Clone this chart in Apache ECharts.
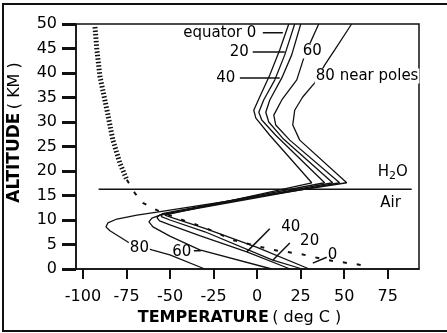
<!DOCTYPE html>
<html>
<head>
<meta charset="utf-8">
<script src="https://cdn.jsdelivr.net/npm/echarts@6/dist/echarts.min.js"></script>
<style>
html, body { margin: 0; padding: 0; background: #fff; }
#main { width: 447px; height: 333px; }
</style>
</head>
<body>
<div id="main"></div>
<script>
// temperature (deg C) vs altitude (km), one profile per latitude
const xTicks = [-100, -75, -50, -25, 0, 25, 50, 75];
const latEquator = [[30, 0], [0, 4.4], [-30, 8.3], [-48, 10.4], [-53, 11.0], [-52, 11.4], [31.4, 17.6], [7.3, 27.3], [-0.7, 30.8], [-1.9, 32.4], [1.5, 35.1], [7.3, 39.6], [13.0, 44.7], [18.2, 50]];
const lat20 = [[26, 0], [9, 1.8], [-30, 7.6], [-50, 10.0], [-55, 10.7], [-54.5, 11.3], [38.8, 17.6], [10.7, 27.3], [2.7, 30.4], [1.0, 32.0], [3.8, 34.5], [10.2, 38.6], [15.9, 43.7], [21.6, 50]];
const lat40 = [[19, 0], [-5.9, 3.5], [-33, 6.8], [-50, 9.0], [-56, 9.8], [-57.5, 10.5], [-55.5, 11.1], [43.4, 17.6], [14.7, 26.7], [6.7, 30.0], [5.0, 32.0], [7.3, 34.5], [14.2, 39.0], [19.9, 43.7], [25.1, 50]];
const lat60 = [[8.4, 0], [-32.9, 3.9], [-50.1, 6.7], [-59.8, 8.6], [-62.1, 9.6], [-60.4, 10.4], [-55.8, 11.0], [47.4, 17.6], [18.8, 26.3], [10.7, 29.4], [9.6, 31.4], [14.2, 34.5], [22.8, 38.6], [27.4, 43.7], [35.4, 50]];
const lat80 = [[-30, 0], [-50.1, 2.9], [-60.4, 3.9], [-74.2, 5.5], [-84.5, 7.8], [-86.8, 8.6], [-85.7, 9.4], [-80.5, 10.2], [-69, 11.0], [-57.5, 11.6], [51.5, 17.6], [24.5, 26.3], [20.5, 29.4], [21.6, 32.4], [26.2, 35.1], [33.1, 38.0], [38.8, 41.6], [44.6, 44.7], [54.3, 50]];
// dotted reference profile (dense part above, sparse dashes below)
const dottedUpper = [[-93.1, 49.4], [-92.0, 44.7], [-90.2, 39.2], [-86.2, 32.4], [-82.8, 26.3], [-78.8, 21.6], [-74.8, 18.2]];
const dottedLower = [[-74.8, 18.2], [-70.2, 15.5], [-65.6, 13.5], [-57.5, 12.0], [-46.1, 10.4], [-32.9, 8.8], [-24.3, 7.6], [-13.9, 5.9], [9.0, 3.9], [24.5, 3.1], [40.6, 1.8], [60.1, 0.8]];
// H2O / Air boundary
const boundary = [[-91, 16.3], [88.8, 16.3]];

// annotations
const labelTexts = ['equator 0', '20', '40', '60', '80 near poles', 'H2O', 'Air', '40', '20', '0', '60', '80'];
const labelSpots = [[-21.4, 48.2], [-10.2, 44.3], [-18, 39.0], [31.7, 44.5], [63.2, 39.4], [77.9, 19.8], [76.7, 13.5], [19.3, 8.6], [30.2, 5.7], [43.4, 2.9], [-43.2, 3.5], [-67.6, 4.2]];
const leaders = [
  [[3.3, 48.2], [14.8, 48.2]],
  [[-2.5, 44.3], [15.9, 44.3]],
  [[-9.9, 39.0], [13.0, 39.0]],
  [[-5.9, 3.5], [7.3, 8.2]],
  [[9.0, 1.8], [18.8, 5.3]],
  [[32, 1.2], [40, 2.4]],
  [[-36.3, 3.7], [-32.3, 3.7]]
];

const ink = '#111';
const font = 'DejaVu Sans';

function profile (data) {
  return {
    type: 'line', data: data, symbol: 'none', z: 3,
    lineStyle: { color: ink, width: 1.3 }
  };
}

let series = [latEquator, lat20, lat40, lat60, lat80].map(profile);
series.push({
  type: 'line', data: dottedUpper, symbol: 'none', z: 2,
  lineStyle: { color: ink, width: 5, type: [1.5, 2] }
});
series.push({
  type: 'line', data: dottedLower, symbol: 'none', z: 2,
  lineStyle: { color: ink, width: 2, type: [4, 10] }
});
series.push({
  type: 'line', data: boundary, symbol: 'none', z: 2,
  lineStyle: { color: ink, width: 1.5 }
});
leaders.forEach(seg => {
  series.push({
    type: 'line', data: seg, symbol: 'none', z: 4,
    lineStyle: { color: ink, width: 1.5 }
  });
});
series.push({
  type: 'scatter', z: 10, symbolSize: 0,
  itemStyle: { opacity: 1 },
  data: labelSpots.map((p, i) => ({
    value: p,
    label: {
      show: true, position: 'inside',
      formatter: labelTexts[i] === 'H2O' ? '{a|H}{s|2}{a|O}' : labelTexts[i],
      backgroundColor: (i === 3 || i === 4 || i === 11) ? '#fff' : 'transparent',
      padding: [0, 1]
    }
  })),
  label: {
    color: '#000', opacity: 1, fontFamily: font, fontSize: 15,
    rich: {
      a: { fontFamily: font, fontSize: 15, color: '#000' },
      s: { fontFamily: font, fontSize: 11, color: '#000', padding: [8, 0, 0, 0] }
    }
  }
});

let option = {
  backgroundColor: '#fff',
  animation: false,
  grid: {
    left: 76, top: 24, right: 28, bottom: 64,
    outerBoundsMode: 'none',
    show: true, borderColor: ink, borderWidth: 1.5
  },
  xAxis: {
    type: 'value', min: -104, max: 93,
    name: '{b|TEMPERATURE} {n|( deg C )}',
    nameLocation: 'middle', nameGap: 36,
    nameTextStyle: {
      padding: [0, 16, 0, 0],
      rich: {
        b: { fontFamily: font, fontSize: 16, fontWeight: 'bold', color: '#000' },
        n: { fontFamily: font, fontSize: 16, color: '#000' }
      }
    },
    axisLine: { show: true, onZero: false, lineStyle: { color: ink, width: 1.5 } },
    axisTick: { show: true, customValues: xTicks, length: 10, lineStyle: { color: ink, width: 2 } },
    axisLabel: { customValues: xTicks, margin: 20, color: '#000', fontFamily: font, fontSize: 16 },
    splitLine: { show: false }
  },
  yAxis: {
    type: 'value', min: 0, max: 50, interval: 5,
    name: '{b|ALTITUDE} {n|( KM )}',
    nameLocation: 'middle', nameGap: 53, nameRotate: 90,
    nameTextStyle: {
      padding: [0, 0, 0, 28],
      rich: {
        b: { fontFamily: font, fontSize: 17, fontWeight: 'bold', color: '#000' },
        n: { fontFamily: font, fontSize: 16, color: '#000' }
      }
    },
    axisLine: { show: true, onZero: false, lineStyle: { color: ink, width: 1.5 } },
    axisTick: { show: true, length: 14, lineStyle: { color: ink, width: 3 } },
    axisLabel: { margin: 19, color: '#000', fontFamily: font, fontSize: 16 },
    splitLine: { show: false }
  },
  graphic: [{
    type: 'rect', silent: true,
    shape: { x: 3, y: 4, width: 460, height: 327 },
    style: { fill: 'none', stroke: ink, lineWidth: 2 }
  }],
  series: series
};

let myChart = echarts.init(document.getElementById('main'));
myChart.setOption(option);
</script>
</body>
</html>
